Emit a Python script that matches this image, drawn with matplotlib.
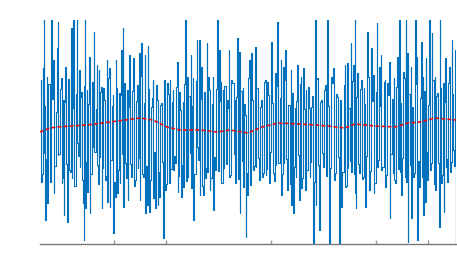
import matplotlib
matplotlib.use("Agg")
import matplotlib.pyplot as plt
import numpy as np

# Peaks (time, value)
peak_t = [1,3,4,7,11,12,14,17,18,21,23,26,28,31,34,37,39,42,45,47,50,54,57,59,62,64,67,70,73,76,79,81,83,87,89,93,97,99,102,105,108,111,113,117,122,124,127,130,133,137,140,143,145,148,151,153,157,159,162,164,167,170,173,177,179,181,183,187,189,
          191,195,197,200,203,206,210,212,215,217,221,225,228,231,235,237,241,243,246,251,255,257,261,263,266,270,272,276,278,281,285,288,291,294,297,301,305,308,311,313,315,318,321,324,328,331,334,337,339,341,345,347,350,354,358,360,363,366,368,371,375,377,381,383,386,390,392,395,397,400,403,406,409,412,415]
peak_v = [164,176,224,167,224,192,184,196,222,166,144,177,154,216,224,224,174,152,224,154,187,212,179,174,157,156,184,176,149,184,151,194,216,154,189,186,159,191,201,189,198,137,164,144,141,141,161,164,154,182,152,142,224,167,189,166,204,204,177,131,201,154,167,224,194,162,154,144,194,
          164,144,206,192,156,129,184,191,197,156,144,164,162,202,171,222,184,177,194,174,136,179,167,176,154,136,137,224,166,144,159,224,167,176,147,144,179,181,201,179,224,171,164,156,212,196,169,221,177,189,164,161,182,166,187,224,172,224,191,177,224,187,202,167,186,224,211,167,151,224,161,186,177,204,194]

# Troughs (time, value)
trough_t = [1,3,6,7,8,14,18,22,24,27,30,32,37,40,43,44,45,47,50,53,57,59,62,65,67,70,73,75,77,80,83,86,88,92,95,98,100,103,105,107,110,113,115,118,120,123,126,129,133,135,138,142,143,146,148,151,153,157,160,163,165,167,170,173,175,178,181,183,189,
            190,195,200,203,206,208,210,213,216,220,223,226,230,233,236,241,244,248,251,254,256,259,261,265,270,274,276,280,283,286,289,290,295,299,301,305,308,311,315,316,320,323,326,330,334,337,341,345,350,353,356,360,362,365,368,371,374,377,380,383,385,388,391,395,399,401,404,406,408,411,413,416]
trough_v = [62,91,24,41,74,51,89,61,29,22,74,66,101,77,41,4,36,52,31,97,79,87,36,64,42,37,11,47,51,61,37,81,44,67,64,76,44,67,31,39,32,46,36,39,47,6,54,61,74,81,52,47,57,84,67,56,24,97,49,49,66,72,54,34,74,97,61,76,67,
            67,61,31,57,7,49,62,74,77,64,71,69,61,71,79,49,81,54,39,31,67,44,56,54,67,1,39,14,77,84,1,36,71,1,37,57,76,72,51,36,71,67,37,54,51,77,74,57,26,71,61,72,49,67,2,26,67,4,57,29,42,64,81,54,17,61,32,77,62,82,94,1]

# Inner swings of the dense core, estimated every 2 time units
inner_v = [150,70,138,85,160,62,145,78,132,90, 155,66,142,80,165,72,136,58,150,88,
           147,64,158,82,140,70,162,92,135,60, 152,76,144,68,166,84,138,62,156,74,
           149,90,161,66,137,80,153,58,143,86, 168,70,141,78,155,64,146,92,159,72,
           139,82,164,60,150,75,142,88,157,68, 134,79,160,63,148,91,138,70,163,84,
           145,58,152,76,167,66,140,87,155,73, 143,61,158,80,136,69,161,90,147,65,
           153,83,140,71,166,59,144,78,156,86, 137,67,162,75,149,92,141,63,158,81,
           146,70,164,85,139,60,151,77,143,89, 160,66,135,74,157,82,148,62,165,79,
           142,91,154,68,138,76,161,64,150,87, 144,72,159,58,136,83,163,70,147,80,
           155,65,140,88,167,73,143,61,152,84, 138,77,162,69,149,90,145,64,157,75,
           141,86,166,62,150,79,137,71,160,83, 146,67,153,92,139,74,164,60,148,81,
           156,69,142,85,161,72,150,78,158]
inner_t = list(np.arange(len(inner_v)) * 2 + 0.5)

# Smoothed trend (red dashed)
trend_t = [0,10,17,47,70,85,100,113,127,140,160,177,190,208,222,238,261,288,305,315,335,355,368,380,395,405,416]
trend_v = [112,116,117,119,122,124,126,124,117,114,114,112,114,111,117,121,120,118,116,120,118,117,121,122,126,125,124]

tick_t = [74,126,231,336,388]

pts = sorted(list(zip(peak_t, peak_v)) + list(zip(trough_t, trough_v)) + list(zip(inner_t, inner_v)),
             key=lambda p: p[0])
sig_t = [p[0] for p in pts]
sig_v = [p[1] for p in pts]

fig = plt.figure(figsize=(4.57, 2.75), dpi=100)
ax = fig.add_axes([40/457, 31/275, 416/457, 224/275])
ax.plot(sig_t, sig_v, color="#0072BD", lw=0.8, drawstyle="steps-mid")
ax.plot(trend_t, trend_v, color="#FF0000", lw=1.1, ls=(0, (2.5, 1.5)))
ax.set_xlim(0, 416)
ax.set_ylim(0, 224)
for s in ["top", "right", "left"]:
    ax.spines[s].set_visible(False)
ax.spines["bottom"].set_color("#777777")
ax.spines["bottom"].set_linewidth(1.0)
ax.set_xticks(tick_t)
ax.set_xticklabels([])
ax.set_yticks([])
ax.tick_params(axis="x", direction="in", length=3, color="#999999", width=1)
fig.savefig("out.png", dpi=100)
